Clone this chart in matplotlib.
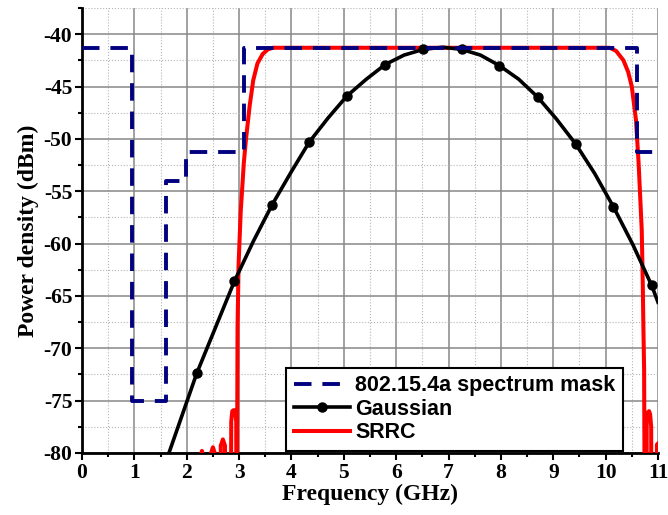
import matplotlib.pyplot as plt
from matplotlib.ticker import MultipleLocator

# 802.15.4a spectrum mask (step corners)
mask_f = [0.0, 0.96, 0.96, 1.61, 1.61, 1.99, 1.99, 3.1, 3.1, 10.6, 10.6, 11.0]
mask_p = [-41.3, -41.3, -75.0, -75.0, -54.0, -54.0, -51.3, -51.3, -41.3, -41.3, -51.3, -51.3]

# Gaussian pulse spectrum
gauss_f = [1.66, 2.19, 2.55, 2.91, 3.27, 3.63, 3.99, 4.34, 4.70, 5.06, 5.43, 5.79, 6.15,
           6.52, 6.885, 7.25, 7.61, 7.97, 8.34, 8.70, 9.06, 9.43, 9.79, 10.15, 10.52, 10.88, 11.0]
gauss_p = [-80.0, -72.4, -68.0, -63.6, -59.8, -56.3, -53.2, -50.3, -48.0, -45.9, -44.3, -42.9, -42.0,
           -41.45, -41.25, -41.45, -42.0, -43.0, -44.3, -46.0, -48.1, -50.5, -53.3, -56.5, -60.1, -64.0, -65.6]

# SRRC pulse spectrum
srrc_f = [2.0, 2.26, 2.265, 2.29, 2.315, 2.32,
          2.46, 2.465, 2.50, 2.535, 2.54,
          2.64, 2.65, 2.69, 2.73, 2.74,
          2.84, 2.85, 2.87, 2.90, 2.93, 2.945, 2.95,
          2.955, 2.97, 2.99, 3.03, 3.09, 3.13, 3.20, 3.27, 3.35, 3.45, 3.55, 3.65,
          10.08, 10.2, 10.34, 10.43, 10.50, 10.58, 10.63, 10.69, 10.71, 10.72, 10.735, 10.75,
          10.78, 10.785, 10.81, 10.83, 10.85, 10.87, 10.875,
          10.975, 10.98, 11.0]
srrc_p = [-90, -90, -80.3, -79.8, -80.3, -90,
          -90, -80.0, -79.45, -80.0, -90,
          -90, -79.3, -78.7, -79.3, -90,
          -90, -77.0, -76.0, -75.9, -76.0, -77.0, -90,
          -90, -68.0, -62.0, -57.0, -52.3, -50.1, -46.9, -44.4, -42.8, -41.9, -41.45, -41.3,
          -41.3, -41.6, -42.5, -43.6, -45.0, -48.2, -52.3, -58.7, -64.0, -67.5, -72.0, -90,
          -90, -77.0, -76.1, -76.0, -76.3, -77.5, -90,
          -90, -79.2, -79.1]

plt.rcParams['font.family'] = 'Liberation Serif'
plt.rcParams['font.weight'] = 'bold'
plt.rcParams['axes.unicode_minus'] = False

fig = plt.figure(figsize=(6.68, 5.15), dpi=100)
ax = fig.add_axes([0.1228, 0.1204, 0.8622, 0.8641])

ax.plot(srrc_f, srrc_p, color='#ff0000', lw=2.9, label='SRRC', zorder=3)
ax.plot(gauss_f, gauss_p, color='black', lw=2.6, marker='o', ms=6.5,
        markevery=slice(1, None, 2), label='Gaussian', zorder=4)
ax.plot(mask_f, mask_p, color='#000080', lw=2.8, dashes=(4.5, 2.8),
        label='802.15.4a spectrum mask', zorder=5)

ax.set_xlim(0, 11)
ax.set_ylim(-80, -37.5)
ax.xaxis.set_major_locator(MultipleLocator(1))
ax.xaxis.set_minor_locator(MultipleLocator(0.5))
ax.yaxis.set_major_locator(MultipleLocator(5))
ax.yaxis.set_minor_locator(MultipleLocator(2.5))

ax.grid(which='major', color='#888888', lw=1.1, ls='-', zorder=0)
ax.grid(which='minor', color='#b5b5b5', lw=0.8, ls=':', zorder=0)
ax.get_xgridlines()[-1].set_visible(False)
ax.set_axisbelow(True)

for s in ['top', 'right']:
    ax.spines[s].set_visible(False)
for s in ['left', 'bottom']:
    ax.spines[s].set_linewidth(2)

ax.tick_params(which='major', direction='out', length=5, width=1.5, labelsize=15.5, pad=2)
ax.tick_params(which='minor', direction='out', length=3, width=1.5)
for lab in ax.get_xticklabels() + ax.get_yticklabels():
    lab.set_fontweight('bold')

ax.set_xlabel('Frequency (GHz)', fontsize=17, fontweight='bold', labelpad=1)
ax.set_ylabel('Power density (dBm)', fontsize=17, fontweight='bold', labelpad=3)

h, l = ax.get_legend_handles_labels()
leg = ax.legend(h[::-1], l[::-1], loc='lower right', bbox_to_anchor=(0.939, 0.0045),
                borderaxespad=0, fancybox=False, framealpha=1, edgecolor='black',
                handlelength=2.6, handletextpad=0.25, labelspacing=0.12, borderpad=0.35,
                prop={'family': 'Liberation Sans', 'weight': 'bold', 'size': 15.5})
leg.get_frame().set_linewidth(1.5)
leg.set_zorder(10)

fig.savefig('out.png', dpi=100)
